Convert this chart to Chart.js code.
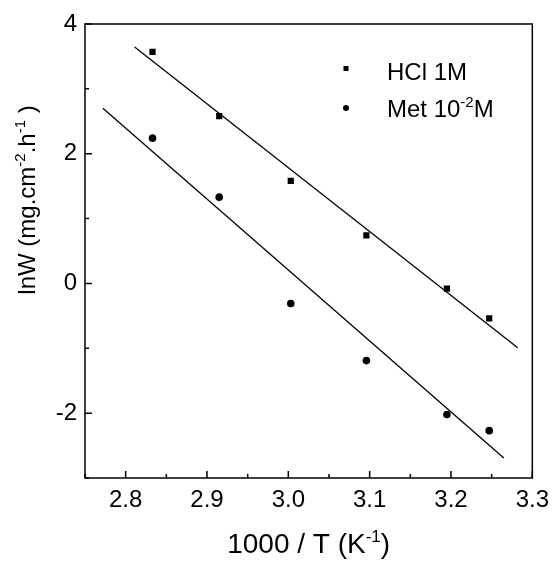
<!DOCTYPE html>
<html>
<head>
<meta charset="utf-8">
<script src="https://cdn.jsdelivr.net/npm/chart.js@4.4.1/dist/chart.umd.min.js"></script>
<style>
  body { margin: 0; background: #fff; }
  canvas { display: block; }
</style>
</head>
<body>
<canvas id="myChart" width="557" height="561"></canvas>
<script>
// values
var INV_T = [2.833, 2.915, 3.003, 3.096, 3.195, 3.247];
var HCL_LNW = [3.57, 2.58, 1.58, 0.74, -0.08, -0.54];
var MET_LNW = [2.24, 1.33, -0.31, -1.19, -2.02, -2.27];

// fitted lines (end points)
var HCL_FIT_X = [2.811, 3.282];
var HCL_FIT_Y = [3.645, -0.99];
var MET_FIT_X = [2.772, 3.265];
var MET_FIT_Y = [2.70, -2.69];

var FONT = '"Liberation Sans", Arial, sans-serif';

function pts(xs, ys) {
    var out = [];
    for (var i = 0; i < xs.length; i++) {
        out.push({x: xs[i], y: ys[i]});
    }
    return out;
}

// text with superscripts: parts = [[text, isSup], ...]
function drawRich(ctx, parts, x, y, size, align) {
    var sup = Math.round(size * 0.62);
    var total = 0;
    parts.forEach(function (p) {
        ctx.font = (p[1] ? sup : size) + 'px ' + FONT;
        total += ctx.measureText(p[0]).width;
    });
    var cx = align === 'center' ? x - total / 2 : x;
    ctx.textBaseline = 'alphabetic';
    ctx.textAlign = 'left';
    parts.forEach(function (p) {
        ctx.font = (p[1] ? sup : size) + 'px ' + FONT;
        ctx.fillText(p[0], cx, p[1] ? y - size * 0.4 : y);
        cx += ctx.measureText(p[0]).width;
    });
}

function isMajor(v, step) {
    var q = v / step;
    return Math.abs(q - Math.round(q)) < 1e-6;
}

var framePlugin = {
    id: 'frame',
    afterDraw: function (chart) {
        var ctx = chart.ctx;
        var a = chart.chartArea;
        var xs = chart.scales.x, ys = chart.scales.y;
        ctx.save();
        ctx.strokeStyle = '#000';
        ctx.lineWidth = 1.5;
        ctx.strokeRect(a.left, a.top, a.right - a.left, a.bottom - a.top);

        // inward ticks
        ctx.beginPath();
        xs.ticks.forEach(function (t) {
            var px = xs.getPixelForValue(t.value);
            var len = isMajor(t.value, 0.1) ? 7 : 4;
            ctx.moveTo(px, a.bottom);
            ctx.lineTo(px, a.bottom - len);
        });
        ys.ticks.forEach(function (t) {
            var py = ys.getPixelForValue(t.value);
            var len = isMajor(t.value, 2) ? 7 : 4;
            ctx.moveTo(a.left, py);
            ctx.lineTo(a.left + len, py);
        });
        ctx.stroke();

        ctx.fillStyle = '#000';
        // axis titles
        drawRich(ctx, [['1000 / T (K', false], ['-1', true], [')', false]],
            (a.left + a.right) / 2, 553, 28, 'center');
        ctx.save();
        ctx.translate(35, 200);
        ctx.rotate(-Math.PI / 2);
        drawRich(ctx, [['lnW (mg.cm', false], ['-2', true], ['.h', false], ['-1', true], [' )', false]],
            0, 0, 24, 'center');
        ctx.restore();

        // legend
        var lx = a.left + 261;
        ctx.fillRect(lx - 2.5, 66, 5, 5);
        ctx.beginPath();
        ctx.arc(lx, 108, 3, 0, Math.PI * 2);
        ctx.fill();
        drawRich(ctx, [['HCl 1M', false]], lx + 41, 80, 24, 'left');
        drawRich(ctx, [['Met 10', false], ['-2', true], ['M', false]], lx + 41, 117, 24, 'left');
        ctx.restore();
    }
};

const ctx = document.getElementById('myChart').getContext('2d');
const myChart = new Chart(ctx, {
    type: 'scatter',
    data: {
        datasets: [{
                label: 'HCl 1M',
                data: pts(INV_T, HCL_LNW),
                pointStyle: 'rect',
                pointRadius: 4.4,
                backgroundColor: '#000',
                borderColor: '#000',
                borderWidth: 0
            }, {
                label: 'Met 10-2M',
                data: pts(INV_T, MET_LNW),
                pointStyle: 'circle',
                pointRadius: 3.8,
                backgroundColor: '#000',
                borderColor: '#000',
                borderWidth: 0
            }, {
                type: 'line',
                label: 'fit HCl',
                data: pts(HCL_FIT_X, HCL_FIT_Y),
                borderColor: '#000',
                borderWidth: 1.3,
                pointRadius: 0,
                fill: false,
                tension: 0
            }, {
                type: 'line',
                label: 'fit Met',
                data: pts(MET_FIT_X, MET_FIT_Y),
                borderColor: '#000',
                borderWidth: 1.3,
                pointRadius: 0,
                fill: false,
                tension: 0
            }]
    },
    options: {
        responsive: false,
        animation: false,
        events: [],
        layout: {padding: {top: 24, right: 18, left: 0, bottom: 0}},
        plugins: {
            legend: {display: false},
            tooltip: {enabled: false}
        },
        scales: {
            x: {
                type: 'linear',
                min: 2.75,
                max: 3.3,
                grid: {display: false, drawTicks: false},
                border: {display: false},
                ticks: {
                    stepSize: 0.05,
                    autoSkip: false,
                    maxRotation: 0,
                    padding: 8,
                    color: '#000',
                    font: {family: FONT, size: 24},
                    callback: function (v) {
                        return isMajor(v, 0.1) ? v.toFixed(1) : '';
                    }
                },
                afterFit: function (s) { s.height = 83; }
            },
            y: {
                min: -3,
                max: 4,
                grid: {display: false, drawTicks: false},
                border: {display: false},
                ticks: {
                    stepSize: 1,
                    autoSkip: false,
                    padding: 8,
                    color: '#000',
                    font: {family: FONT, size: 24},
                    callback: function (v) {
                        return isMajor(v, 2) ? String(v) : '';
                    }
                },
                afterFit: function (s) { s.width = 85; }
            }
        }
    },
    plugins: [framePlugin]
});
</script>
</body>
</html>
